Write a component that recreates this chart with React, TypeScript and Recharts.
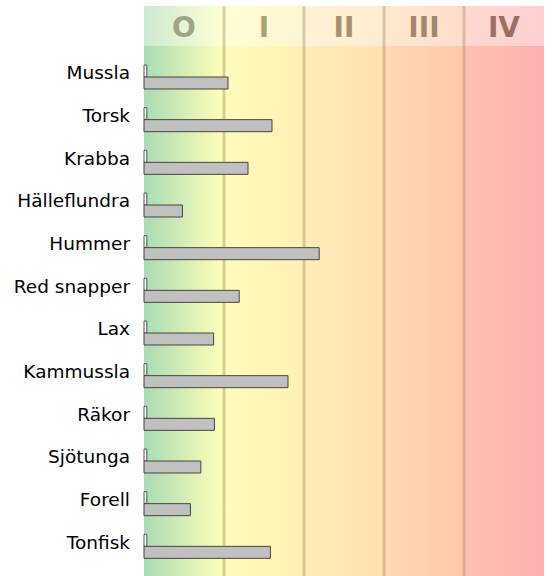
import { BarChart, Bar, XAxis, YAxis, ReferenceArea } from "recharts"

const SPECIES = [
  "Mussla",
  "Torsk",
  "Krabba",
  "Hälleflundra",
  "Hummer",
  "Red snapper",
  "Lax",
  "Kammussla",
  "Räkor",
  "Sjötunga",
  "Forell",
  "Tonfisk",
]
const BASE_VALUES = [0.035, 0.035, 0.035, 0.035, 0.035, 0.035, 0.035, 0.035, 0.035, 0.035, 0.035, 0.035]
const LEVEL_VALUES = [1.05, 1.6, 1.3, 0.48, 2.19, 1.19, 0.87, 1.8, 0.88, 0.71, 0.58, 1.58]

const ZONES = ["O", "I", "II", "III", "IV"]
const ZONE_FROM = [0, 1, 2, 3, 4]
const ZONE_TO = [1, 2, 3, 4, 5]

// gradient start/end per zone, and label tint
const ZONE_COLORS = [
  ["#a9dcb4", "#ffffb8"],
  ["#fffcbc", "#fff0b4"],
  ["#ffecb8", "#ffe0b0"],
  ["#ffd9b0", "#ffc8a8"],
  ["#ffc0b0", "#ffb0b0"],
]
const ZONE_TEXT = ["#9ea485", "#aba275", "#a8916f", "#a2866f", "#9b6f67"]

const CHART_W = 552
const CHART_H = 576
const HEADER_TOP = 6
const BODY_TOP = 46

const data = SPECIES.map((name, i) => ({
  name,
  base: BASE_VALUES[i],
  level: LEVEL_VALUES[i],
}))

// eslint-disable-next-line @typescript-eslint/no-explicit-any
function Zone(props: any) {
  const { x, width, zone } = props
  const id = `zone-grad-${zone}`
  const [c0, c1] = ZONE_COLORS[zone]
  return (
    <g>
      <defs>
        <linearGradient id={id} x1="0" y1="0" x2="1" y2="0">
          <stop offset="0%" stopColor={c0} />
          <stop offset="100%" stopColor={c1} />
        </linearGradient>
      </defs>
      <rect
        x={x}
        y={HEADER_TOP}
        width={width}
        height={BODY_TOP - HEADER_TOP}
        fill={`url(#${id})`}
        fillOpacity={0.6}
      />
      <rect x={x} y={BODY_TOP} width={width} height={CHART_H - BODY_TOP} fill={`url(#${id})`} />
      {zone > 0 && (
        <rect
          x={x - 1.5}
          y={HEADER_TOP}
          width={3}
          height={CHART_H - HEADER_TOP}
          fill="#a88a60"
          fillOpacity={0.4}
        />
      )}
      <text
        x={x + width / 2}
        y={37}
        textAnchor="middle"
        fontFamily="DejaVu Sans"
        fontWeight="bold"
        fontSize={28}
        fill={ZONE_TEXT[zone]}
      >
        {ZONES[zone]}
      </text>
    </g>
  )
}

// eslint-disable-next-line @typescript-eslint/no-explicit-any
function SpeciesTick({ x, y, payload }: any) {
  return (
    <text x={x} y={y} dy={2} textAnchor="end" fontFamily="DejaVu Sans" fontSize={18.5} fill="#000">
      {payload.value}
    </text>
  )
}

export default function App() {
  return (
    <div style={{ position: "absolute", left: 0, top: 0, background: "#fff" }}>
      <BarChart
        width={CHART_W}
        height={CHART_H}
        data={data}
        layout="vertical"
        margin={{ top: 56, right: 8, bottom: 8, left: 0 }}
        barSize={12}
        barGap={0}
      >
        {ZONES.map((z, i) => (
          <ReferenceArea
            key={z}
            x1={ZONE_FROM[i]}
            x2={ZONE_TO[i]}
            ifOverflow="visible"
            // eslint-disable-next-line @typescript-eslint/no-explicit-any
            shape={(p: any) => <Zone {...p} zone={i} />}
          />
        ))}
        <XAxis type="number" domain={[0, 5]} hide />
        <YAxis
          type="category"
          dataKey="name"
          width={144}
          interval={0}
          tickLine={false}
          axisLine={false}
          tickMargin={8}
          tick={<SpeciesTick />}
        />
        <Bar dataKey="base" fill="#ffffff" stroke="#555555" isAnimationActive={false} />
        <Bar dataKey="level" fill="#c0c0c0" stroke="#444444" isAnimationActive={false} />
      </BarChart>
    </div>
  )
}
